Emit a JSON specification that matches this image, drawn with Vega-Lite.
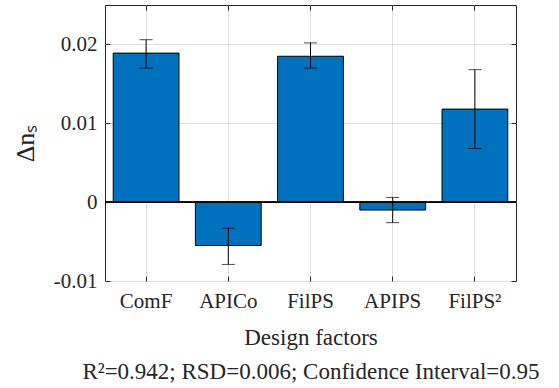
{
  "$schema": "https://vega.github.io/schema/vega-lite/v6.json",
  "width": 411,
  "height": 276,
  "autosize": "none",
  "padding": {"left": 105, "top": 5, "right": 43, "bottom": 107},
  "background": "white",
  "config": {
    "font": "Liberation Serif",
    "view": {"stroke": "#262626", "strokeWidth": 1},
    "axis": {
      "labelFont": "Liberation Serif",
      "titleFont": "Liberation Serif",
      "labelColor": "#262626",
      "titleColor": "#262626",
      "domain": false,
      "tickColor": "#262626",
      "gridColor": "#dfdfdf",
      "gridWidth": 1
    }
  },
  "data": {
    "values": [
      {"factor": "ComF", "value": 0.0189, "lo": 0.0170, "hi": 0.0206},
      {"factor": "APICo", "value": -0.0055, "lo": -0.0079, "hi": -0.0033},
      {"factor": "FilPS", "value": 0.0185, "lo": 0.0170, "hi": 0.0202},
      {"factor": "APIPS", "value": -0.0010, "lo": -0.0026, "hi": 0.0006},
      {"factor": "FilPS²", "value": 0.0118, "lo": 0.0068, "hi": 0.0168}
    ]
  },
  "resolve": {"axis": {"x": "independent", "y": "independent"}},
  "layer": [
    {
      "mark": {"type": "bar", "color": "#0072BD", "stroke": "#000000", "strokeWidth": 1},
      "encoding": {
        "x": {
          "field": "factor", "type": "nominal", "sort": null,
          "scale": {"paddingInner": 0.2, "paddingOuter": 0.1},
          "axis": {
            "orient": "bottom", "labelAngle": 0, "labelFontSize": 21, "labelFont": "Liberation Serif",
            "tickSize": -5, "labelPadding": 14, "grid": true, "bandPosition": 0.5,
            "title": ["Design factors", "R²=0.942; RSD=0.006; Confidence Interval=0.95"],
            "titleFont": "Liberation Serif",
            "titleFontSize": 23, "titleFontWeight": "normal", "titleLineHeight": 34, "titlePadding": 15
          }
        },
        "y": {
          "field": "value", "type": "quantitative",
          "scale": {"domain": [-0.01, 0.025], "nice": false, "zero": false},
          "axis": {
            "orient": "left", "values": [-0.01, 0, 0.01, 0.02], "labelFontSize": 21, "labelFont": "Liberation Serif",
            "tickSize": -5, "labelPadding": 13, "grid": true,
            "labelExpr": "datum.value == 0 ? '0' : (datum.value < 0 ? '-' + format(-datum.value, '.2f') : format(datum.value, '.2f'))",
            "title": "Δnₛ", "titleFont": "Liberation Serif", "titleFontSize": 26, "titleFontWeight": "normal", "titlePadding": 15
          }
        }
      }
    },
    {
      "mark": {"type": "rule", "color": "#000000", "strokeWidth": 1},
      "encoding": {"y": {"datum": 0, "type": "quantitative", "axis": null}}
    },
    {
      "mark": {"type": "rule", "color": "#000000", "strokeWidth": 1},
      "encoding": {
        "x": {
          "field": "factor", "type": "nominal", "sort": null,
          "axis": {"orient": "top", "labels": false, "tickSize": -5, "grid": false, "title": null, "bandPosition": 0.5}
        },
        "y": {
          "field": "lo", "type": "quantitative",
          "axis": {"orient": "right", "labels": false, "tickSize": -5, "grid": false, "title": null, "values": [-0.01, 0, 0.01, 0.02]}
        },
        "y2": {"field": "hi"}
      }
    },
    {
      "mark": {"type": "tick", "color": "#000000", "size": 13, "thickness": 1},
      "encoding": {
        "x": {"field": "factor", "type": "nominal", "sort": null, "axis": null},
        "y": {"field": "lo", "type": "quantitative", "axis": null}
      }
    },
    {
      "mark": {"type": "tick", "color": "#000000", "size": 13, "thickness": 1},
      "encoding": {
        "x": {"field": "factor", "type": "nominal", "sort": null, "axis": null},
        "y": {"field": "hi", "type": "quantitative", "axis": null}
      }
    }
  ]
}
